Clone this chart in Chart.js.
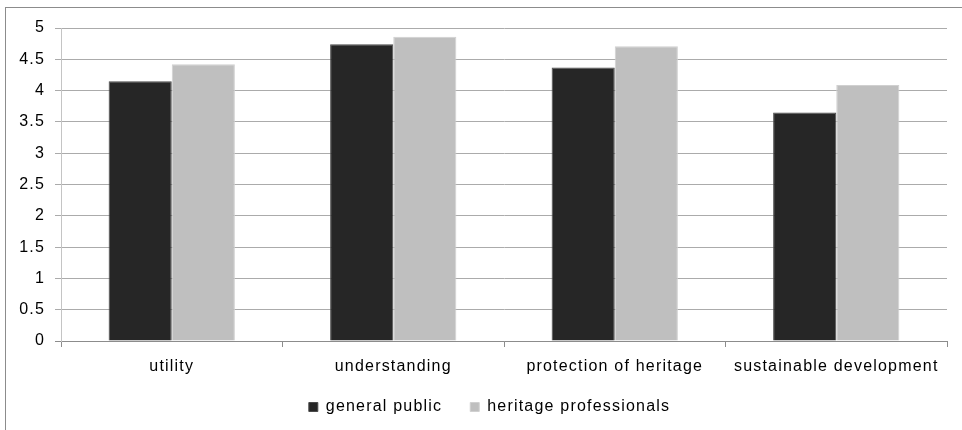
<!DOCTYPE html>
<html>
<head>
<meta charset="utf-8">
<script src="https://cdn.jsdelivr.net/npm/chart.js@4.4.1/dist/chart.umd.min.js"></script>
<style>
  html, body { margin: 0; padding: 0; background: #fff; }
  .wrap { position: relative; width: 962px; height: 430px; overflow: hidden; }
  .frame { position: absolute; left: 5px; top: 7px; width: 1000px; height: 500px;
           border-left: 1px solid #8c8c8c; border-top: 1px solid #8c8c8c; }
  canvas { position: absolute; left: 0; top: 0; }
</style>
</head>
<body>
<div class="wrap">
  <div class="frame"></div>
  <canvas id="chart" width="962" height="430"></canvas>
</div>
<script>
const categories = ['utility', 'understanding', 'protection of heritage', 'sustainable development'];
const generalPublic = [4.15, 4.74, 4.37, 3.65];
const heritagePros = [4.42, 4.86, 4.71, 4.09];
const seriesNames = ['general public', 'heritage professionals'];
const yTicks = [0, 0.5, 1, 1.5, 2, 2.5, 3, 3.5, 4, 4.5, 5];

const family = '"Liberation Sans", Arial, sans-serif';

// slightly wider lettering for every label on the canvas
const spacing = {
  id: 'spacing',
  beforeUpdate(c) { c.ctx.letterSpacing = '1.2px'; },
  beforeDraw(c) { c.ctx.letterSpacing = '1.2px'; }
};

// nudge the legend: a bit right of centre and closer to the axis labels
const legendShift = {
  id: 'legendShift',
  afterLayout(c) {
    c.legend.left += 16;
    c.legend.right += 16;
    c.legend.top -= 5;
    c.legend.bottom -= 5;
  }
};

const ctx = document.getElementById('chart');
const chart = new Chart(ctx, {
  type: 'bar',
  data: {
    labels: categories,
    datasets: [
      { label: seriesNames[0], data: generalPublic, backgroundColor: '#262626', borderColor: '#4a4a4a', borderWidth: 1 },
      { label: seriesNames[1], data: heritagePros, backgroundColor: '#bfbfbf', borderColor: '#d0d0d0', borderWidth: 1 }
    ]
  },
  plugins: [spacing, legendShift],
  options: {
    responsive: false,
    animation: false,
    layout: { padding: { left: 0, right: 15, top: 28, bottom: 0 } },
    datasets: { bar: { categoryPercentage: 0.57, barPercentage: 1 } },
    plugins: {
      tooltip: { enabled: false },
      legend: {
        position: 'bottom',
        labels: {
          color: '#000',
          font: { family: family, size: 16 },
          boxWidth: 9, boxHeight: 9,
          padding: 28
        }
      }
    },
    scales: {
      x: {
        grid: { display: true, drawOnChartArea: false, offset: true, tickLength: 6, color: '#8c8c8c' },
        border: { color: '#8c8c8c' },
        ticks: { color: '#000', font: { family: family, size: 16 }, padding: 10, maxRotation: 0 },
        afterFit: (scale) => { scale.height = 35; }
      },
      y: {
        min: 0, max: 5,
        grid: { color: (c) => c.tick && c.tick.value === 0 ? '#8c8c8c' : '#ababab', tickLength: 6 },
        border: { color: '#c4c4c4' },
        afterBuildTicks: (scale) => { scale.ticks = yTicks.map((v) => ({ value: v })); },
        ticks: { color: '#000', font: { family: family, size: 16 }, padding: 10, callback: (v) => String(v) },
        afterFit: (scale) => { scale.width = 61; }
      }
    }
  }
});
</script>
</body>
</html>
